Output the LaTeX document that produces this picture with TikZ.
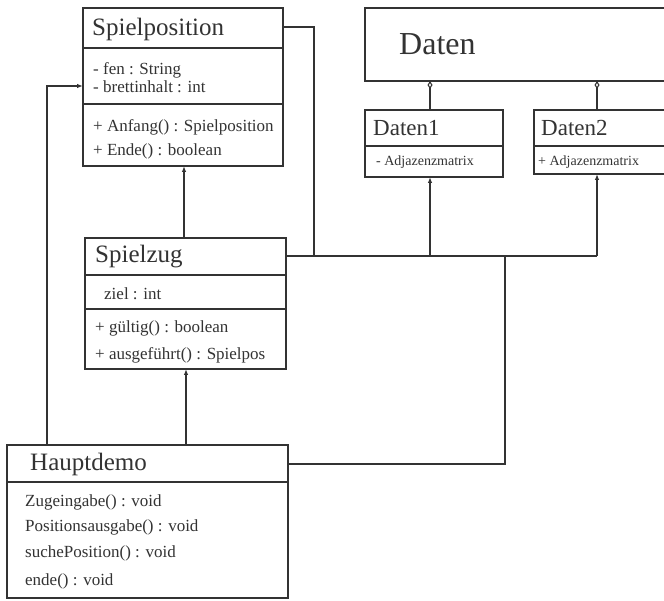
\documentclass[tikz,border=0pt]{standalone}
\usepackage{fontspec}
\setmainfont{Liberation Serif}
\usetikzlibrary{arrows.meta}
\definecolor{ink}{HTML}{333333}
\begin{document}
\begin{tikzpicture}[x=1pt,y=-1pt,
  classbox/.style={draw=ink,line width=1.3pt,anchor=north west,inner sep=0pt,outer sep=0pt},
  sep/.style={draw=ink,line width=1.3pt},
  title/.style={anchor=west,inner sep=0pt,text=ink,font=\fontsize{25}{25}\selectfont},
  member/.style={anchor=west,inner sep=0pt,text=ink,font=\fontsize{17}{17}\selectfont},
  small/.style={member,font=\fontsize{14}{14}\selectfont},
  link/.style={draw=ink,line width=1.1pt},
  arr/.style={link,-{Latex[length=6pt,width=4.5pt]}},
  agg/.style={link,-{Diamond[open,length=8pt,width=5pt]}}]
\useasboundingbox (0,0) rectangle (664,601);
\fill[white] (0,0) rectangle (664,601);
\clip (0,0) rectangle (664,601);

% Spielposition
\node[classbox,minimum width=200pt,minimum height=158pt] (sp) at (83,8) {};
\draw[sep] (83,48) -- (283,48);
\draw[sep] (83,104) -- (283,104);
\node[title] (spt) at (92,29) {Spielposition};
\node[member] (spa1) at (93,70) {- fen : String};
\node[member] (spa2) at (93,87) {- brettinhalt : int};
\node[member] (spm1) at (93,127) {+ Anfang() : Spielposition};
\node[member] (spm2) at (93,151) {+ Ende() : boolean};

% Spielzug
\node[classbox,minimum width=201pt,minimum height=131pt] (sz) at (85,238) {};
\draw[sep] (85,275) -- (286,275);
\draw[sep] (85,309) -- (286,309);
\node[title] (szt) at (95,257) {Spielzug};
\node[member] (sza1) at (104,294) {ziel : int};
\node[member] (szm1) at (95,328) {+ gültig() : boolean};
\node[member] (szm2) at (95,355) {+ ausgeführt() : Spielpos};

% Hauptdemo
\node[classbox,minimum width=281pt,minimum height=153pt] (hd) at (7,445) {};
\draw[sep] (7,482) -- (288,482);
\node[title] (hdt) at (30,464) {Hauptdemo};
\node[member] (hdm1) at (25,502) {Zugeingabe() : void};
\node[member] (hdm2) at (25,527) {Positionsausgabe() : void};
\node[member] (hdm3) at (25,553) {suchePosition() : void};
\node[member] (hdm4) at (25,581) {ende() : void};

% Daten
\node[classbox,minimum width=320pt,minimum height=73pt] (dt) at (365,8) {};
\node[title,font=\fontsize{32}{32}\selectfont] (dtt) at (399,44) {Daten};

% Daten1
\node[classbox,minimum width=138pt,minimum height=67pt] (d1) at (365,110) {};
\draw[sep] (365,146) -- (503,146);
\node[title,font=\fontsize{23}{23}\selectfont] (d1t) at (373,128) {Daten1};
\node[small] (d1a) at (376,162) {- Adjazenzmatrix};

% Daten2
\node[classbox,minimum width=150pt,minimum height=64pt] (d2) at (534,110) {};
\draw[sep] (534,146) -- (684,146);
\node[title,font=\fontsize{23}{23}\selectfont] (d2t) at (541,128) {Daten2};
\node[small] (d2a) at (538,162) {+ Adjazenzmatrix};

% junction points of the connectors
\coordinate (j1) at (430,256);
\coordinate (j2) at (597,256);
\coordinate (jsp) at (314,256);
\coordinate (jhd) at (505,256);
\coordinate (kl) at (47,86);

% inheritance-style arrows
\draw[arr] (sz.north -| 184,0) -- (sp.south -| 184,0);
\draw[arr] (hd.north -| 186,0) -- (sz.south -| 186,0);
\draw[arr] (hd.north -| kl) -- (kl) -- (kl -| sp.west);

% aggregation of Daten1 / Daten2 into Daten
\draw[agg] (d1.north -| j1) -- (dt.south -| j1);
\draw[agg] (d2.north -| j2) -- (dt.south -| j2);

% bus line towards the data classes
\draw[link] (sz.east |- j1) -- (j2);
\draw[arr] (j1) -- (d1.south -| j1);
\draw[arr] (j2) -- (d2.south -| j2);
\draw[link] (sp.east |- 0,27) -- (314,27) -- (jsp);
\draw[link] (hd.east |- 0,464) -- (505,464) -- (jhd);
\end{tikzpicture}
\end{document}
